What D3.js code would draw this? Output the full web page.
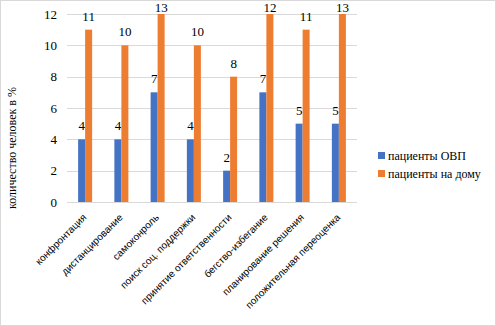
<!DOCTYPE html>
<html lang="ru">
<head>
  <meta charset="UTF-8">
  <title>Chart</title>
  <style>
    body { margin: 0; background: #fff; }
    svg text { font-family: "Liberation Serif", "DejaVu Serif", "Times New Roman", Times, serif; }
    svg text.cat { font-family: "Liberation Sans", Arial, sans-serif; }
  </style>
</head>
<body>
  <script src="https://d3js.org/d3.v7.min.js"></script>
  <script>
    const categories = ['конфронтация', 'дистанцирование', 'самоконроль', 'поиск соц. поддержки',
      'принятие ответственности', 'бегство-избегание', 'планирование решения', 'положительная переоценка'];
    const ovp = [4, 4, 7, 4, 2, 7, 5, 5];
    const home = [11, 10, 13, 10, 8, 12, 11, 13];
    const seriesNames = ['пациенты ОВП', 'пациенты на дому'];
    const colors = ['#4472c4', '#ed7d31'];
    const yTicks = [0, 2, 4, 6, 8, 10, 12];

    const width = 496, height = 326;
    const plot = { left: 67, right: 357, top: 14, bottom: 202 };

    const svg = d3.select('body').append('svg')
      .attr('width', width)
      .attr('height', height);

    svg.append('rect')
      .attr('x', 0.5).attr('y', 0.5)
      .attr('width', width - 1).attr('height', height - 1)
      .attr('fill', '#fff').attr('stroke', '#d9d9d9');

    const xScale = d3.scaleBand()
      .domain(categories)
      .range([plot.left, plot.right]);

    const yScale = d3.scaleLinear()
      .domain([0, 12])
      .range([plot.bottom, plot.top]);

    // gridlines
    svg.append('g')
      .selectAll('line')
      .data(yTicks)
      .join('line')
      .attr('x1', plot.left).attr('x2', plot.right)
      .attr('y1', d => Math.round(yScale(d)) + 0.5)
      .attr('y2', d => Math.round(yScale(d)) + 0.5)
      .attr('stroke', '#d9d9d9');

    // y tick labels
    svg.append('g')
      .selectAll('text')
      .data(yTicks)
      .join('text')
      .attr('x', 57)
      .attr('y', d => yScale(d) + 4.5)
      .attr('text-anchor', 'end')
      .style('font-size', '13px')
      .text(d => d);

    // y title
    svg.append('text')
      .attr('transform', `translate(16, 148) rotate(-90)`)
      .attr('text-anchor', 'middle')
      .style('font-size', '12px')
      .text('количество человек в %');

    const barW = 7;
    const series = [ovp, home];
    const clip = v => Math.min(v, 12); // axis stops at 12, taller bars are cut

    series.forEach((vals, s) => {
      const g = svg.append('g');
      g.selectAll('rect')
        .data(vals)
        .join('rect')
        .attr('x', (d, i) => xScale(categories[i]) + xScale.bandwidth() / 2 - barW + s * barW)
        .attr('y', d => yScale(clip(d)))
        .attr('width', barW)
        .attr('height', d => yScale(0) - yScale(clip(d)))
        .attr('fill', colors[s]);

      g.selectAll('text')
        .data(vals)
        .join('text')
        .attr('x', (d, i) => xScale(categories[i]) + xScale.bandwidth() / 2 - barW / 2 + s * barW)
        .attr('y', d => Math.max(yScale(clip(d)) - 9, 12))
        .attr('text-anchor', 'middle')
        .style('font-size', '13px')
        .text(d => d);
    });

    // category labels
    svg.append('g')
      .selectAll('text')
      .data(categories)
      .join('text')
      .attr('class', 'cat')
      .attr('transform', d => `translate(${xScale(d) + xScale.bandwidth() / 2 + 2}, 218) rotate(-45)`)
      .attr('text-anchor', 'end')
      .style('font-size', '10px')
      .text(d => d);

    // legend
    const legend = svg.append('g')
      .attr('transform', 'translate(378, 152)');
    seriesNames.forEach((name, i) => {
      legend.append('rect')
        .attr('x', 0).attr('y', i * 18)
        .attr('width', 7).attr('height', 7)
        .attr('fill', colors[i]);
      legend.append('text')
        .attr('x', 10).attr('y', i * 18 + 8)
        .style('font-size', '12px')
        .text(name);
    });
  </script>
</body>
</html>
